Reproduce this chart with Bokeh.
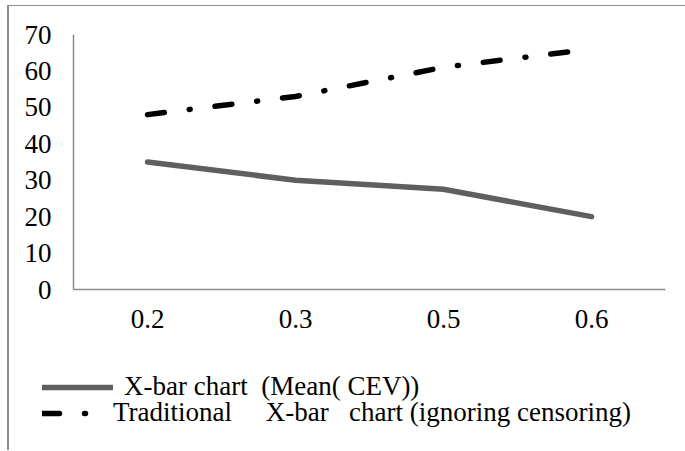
from bokeh.plotting import figure
from bokeh.layouts import column
from bokeh.models import Range1d, FactorRange, FixedTicker, Legend, LegendItem, InlineStyleSheet
from bokeh.embed import file_html
from bokeh.resources import INLINE

categories = ["0.2", "0.3", "0.5", "0.6"]
xbar_cev = [35, 30, 27.5, 20]
traditional = [48, 53, 61, 66]
y_ticks = [0, 10, 20, 30, 40, 50, 60, 70]
label_cev = "X-bar chart\u00a0 (Mean( CEV))"
label_trad = "Traditional\u00a0\u00a0\u00a0\u00a0 X-bar\u00a0\u00a0 chart (ignoring censoring)"

FONT = "Liberation Serif"
AXIS_GRAY = "#8c8c8c"
FS = "27px"

cev_style = dict(line_color="#5f5f5f", line_width=5.5, line_cap="round", line_join="round")
trad_style = dict(line_color="black", line_width=5.5, line_cap="round", line_dash="17 25 1 25")

# main chart
p = figure(width=676, height=340, output_backend="svg", toolbar_location=None,
           x_range=FactorRange(*categories, range_padding=0),
           y_range=Range1d(0, 70),
           min_border_left=64, min_border_right=20, min_border_top=28, min_border_bottom=57)
p.outline_line_color = None
p.xgrid.grid_line_color = None
p.ygrid.grid_line_color = None
for ax in (p.xaxis[0], p.yaxis[0]):
    ax.axis_line_color = AXIS_GRAY
    ax.axis_line_width = 1.5
    ax.major_tick_line_color = None
    ax.minor_tick_line_color = None
    ax.major_label_text_font = FONT
    ax.major_label_text_font_size = FS
    ax.major_label_text_color = "black"
p.yaxis[0].ticker = FixedTicker(ticks=y_ticks)
p.yaxis[0].major_label_standoff = 16
p.xaxis[0].major_label_standoff = 14

p.line(categories, xbar_cev, **cev_style)
p.line(categories, traditional, **trad_style)

# legend strip below the chart
pl = figure(width=676, height=104, output_backend="svg", toolbar_location=None,
            x_range=FactorRange(*categories, range_padding=0),
            y_range=Range1d(1000, 1001),
            x_axis_type=None, y_axis_type=None,
            min_border_left=0, min_border_right=0, min_border_top=0, min_border_bottom=0)
pl.outline_line_color = None
pl.xgrid.grid_line_color = None
pl.ygrid.grid_line_color = None
l1 = pl.line(categories, xbar_cev, **cev_style)
l2 = pl.line(categories, traditional, **trad_style)

for fig in (p, pl):
    try:
        fig.frame_align = False
    except Exception:
        pass

common = dict(orientation="vertical", glyph_height=26, label_height=26,
              padding=0, margin=0, label_text_font=FONT, label_text_font_size=FS,
              label_text_color="black", border_line_color=None, background_fill_alpha=0)
legend1 = Legend(items=[LegendItem(label=label_cev, renderers=[l1])],
                 location=(33, 48), glyph_width=71, label_standoff=11, **common)
legend2 = Legend(items=[LegendItem(label=label_trad, renderers=[l2])],
                 location=(33, 22), glyph_width=66, label_standoff=5, **common)
pl.add_layout(legend1, "center")
pl.add_layout(legend2, "center")

layout = column(p, pl, spacing=0,
                stylesheets=[InlineStyleSheet(css=":host { margin-left: 7px; margin-top: 5px; "
                                                  "border-left: 2px solid #8c8c8c; "
                                                  "border-top: 1px solid #8c8c8c; }")])

open("out.html", "w").write(file_html(layout, INLINE))
